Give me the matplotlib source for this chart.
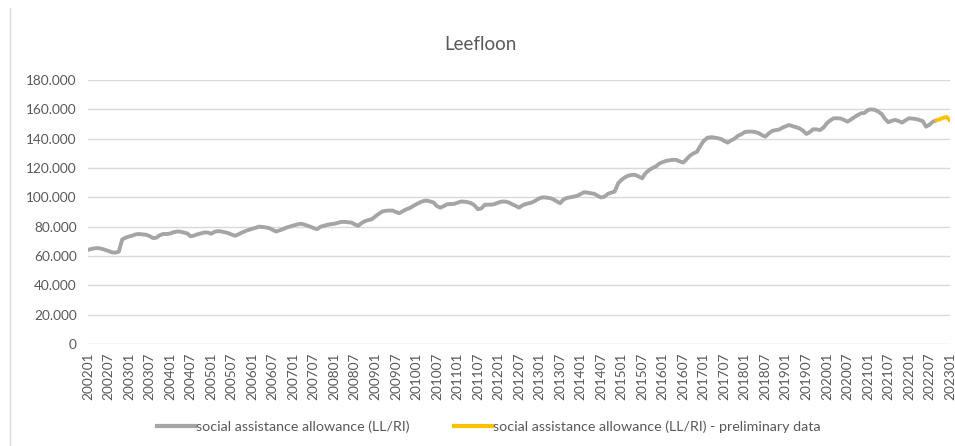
import numpy as np
import matplotlib
matplotlib.use("Agg")
import matplotlib.pyplot as plt
from matplotlib.ticker import FuncFormatter
from matplotlib.lines import Line2D

plt.rcParams['font.family'] = ['Lato', 'DejaVu Sans']

title = "Leefloon"
series_names = ["social assistance allowance (LL/RI)",
                "social assistance allowance (LL/RI) - preliminary data"]

# monthly categories 200201 .. 202301
months = [f"{y}{m:02d}" for y in range(2002, 2024) for m in range(1, 13)]
months = months[:months.index("202301") + 1]

# beneficiaries (thousands), one value per month
allowance_k = [
    # 2002
    64.2, 64.8, 65.3, 65.4, 64.9, 64.2, 63.4, 62.5, 62.3, 63.0, 71.2, 72.5,
    # 2003
    73.3, 73.9, 74.8, 75.0, 74.7, 74.5, 73.6, 72.2, 72.5, 74.2, 75.0, 75.0,
    # 2004
    75.3, 76.2, 76.7, 76.6, 76.0, 75.4, 73.4, 73.9, 74.8, 75.4, 76.0, 76.0,
    # 2005
    75.2, 76.5, 77.0, 76.7, 76.2, 75.6, 74.6, 73.8, 74.8, 76.0, 77.0, 77.8,
    # 2006
    78.6, 79.2, 80.0, 79.8, 79.5, 79.0, 77.8, 76.7, 77.5, 78.3, 79.4, 80.0,
    # 2007
    80.8, 81.4, 82.0, 81.6, 80.8, 80.0, 79.0, 78.3, 80.0, 80.6, 81.3, 81.7,
    # 2008
    82.0, 82.6, 83.2, 83.3, 83.0, 82.8, 81.5, 80.6, 82.5, 83.8, 84.5, 85.1,
    # 2009
    87.0, 88.8, 90.3, 90.8, 91.0, 91.0, 90.0, 89.2, 90.5, 91.8, 92.6, 94.0,
    # 2010
    95.3, 96.5, 97.4, 97.8, 97.2, 96.5, 94.0, 93.0, 94.0, 95.3, 95.4, 95.5,
    # 2011
    96.3, 97.1, 97.0, 96.7, 96.0, 94.5, 91.9, 92.5, 94.9, 95.0, 95.0, 95.5,
    # 2012
    96.5, 97.1, 97.1, 96.5, 95.3, 94.2, 93.0, 94.5, 95.5, 96.0, 96.7, 98.0,
    # 2013
    99.4, 100.0, 99.8, 99.5, 98.7, 97.3, 96.0, 98.5, 99.6, 100.0, 100.5, 101.0,
    # 2014
    102.2, 103.5, 103.2, 102.8, 102.4, 101.0, 99.9, 100.5, 102.4, 103.2, 104.0, 109.6,
    # 2015
    112.0, 113.7, 114.8, 115.3, 115.3, 114.2, 113.0, 116.5, 118.5, 120.0, 121.0, 123.0,
    # 2016
    124.0, 124.8, 125.3, 125.6, 125.5, 124.5, 123.7, 126.0, 128.5, 130.0, 131.0, 135.0,
    # 2017
    138.5, 140.5, 141.0, 140.8, 140.4, 139.8, 138.5, 137.3, 138.8, 140.0, 141.9, 143.0,
    # 2018
    144.5, 144.8, 144.8, 144.6, 143.8, 142.5, 141.4, 143.5, 145.3, 145.8, 146.2, 147.5,
    # 2019
    148.5, 149.3, 148.5, 147.8, 147.0, 145.5, 143.2, 144.5, 146.4, 146.3, 145.9, 147.5,
    # 2020
    150.5, 152.5, 153.9, 153.9, 153.8, 152.8, 151.6, 153.0, 154.6, 156.0, 157.3, 157.5,
    # 2021
    159.5, 160.0, 159.6, 158.5, 156.8, 153.5, 151.2, 152.2, 152.8, 152.0, 151.0, 152.5,
    # 2022
    153.9, 153.7, 153.4, 152.8, 152.0, 148.2, 149.5, 151.6, 152.5, 153.2, 154.2, 154.8,
    # 2023
    152.3,
]
prelim_start = "202209"

yticks_k = [0, 20, 40, 60, 80, 100, 120, 140, 160, 180]

values = np.array(allowance_k) * 1000
x = np.arange(len(months))
ip = months.index(prelim_start)

fig = plt.figure(figsize=(9.55, 4.46), dpi=100)
ax = fig.add_axes([88/955, 1 - 344/446, (950-88)/955, (344-80)/446])

gray = "#a5a5a5"
yellow = "#ffc000"
txt = "#595959"

ax.plot(x[:ip + 1], values[:ip + 1], color=gray, lw=2.8, solid_capstyle='round',
        solid_joinstyle='round', zorder=3)
ax.plot(x[ip:], values[ip:], color=yellow, lw=2.8, solid_capstyle='round',
        solid_joinstyle='round', zorder=4)

ax.set_xlim(0, len(months) - 1)
ax.set_ylim(0, 180000)
ax.set_yticks([v * 1000 for v in yticks_k])
ax.yaxis.set_major_formatter(FuncFormatter(lambda v, p: f"{int(v):,}".replace(",", ".")))
ax.grid(axis='y', color="#d9d9d9", lw=1)
ax.set_axisbelow(True)
for s in ax.spines.values():
    s.set_visible(False)

tick_idx = list(range(0, len(months), 6))
ax.set_xticks(tick_idx)
ax.set_xticklabels([months[i] for i in tick_idx], rotation=90)
ax.tick_params(axis='both', length=0, colors=txt, labelsize=9.8)
ax.tick_params(axis='x', pad=6)
ax.tick_params(axis='y', pad=8)

fig.text(0.503, 1 - 45/446, title, ha='center', va='center', fontsize=13.5, color=txt)

handles = [Line2D([], [], color=gray, lw=3), Line2D([], [], color=yellow, lw=3)]
fig.legend(handles, series_names, loc='center', bbox_to_anchor=(0.512, 1 - 427/446),
           ncol=2, frameon=False, fontsize=10.3, labelcolor=txt,
           handlelength=2.65, handletextpad=0.1, columnspacing=3.1)

fig.add_artist(Line2D([10/955, 10/955], [0, 1 - 8/446], color="#d9d9d9", lw=1,
                      transform=fig.transFigure))

fig.savefig("out.png", dpi=100)
